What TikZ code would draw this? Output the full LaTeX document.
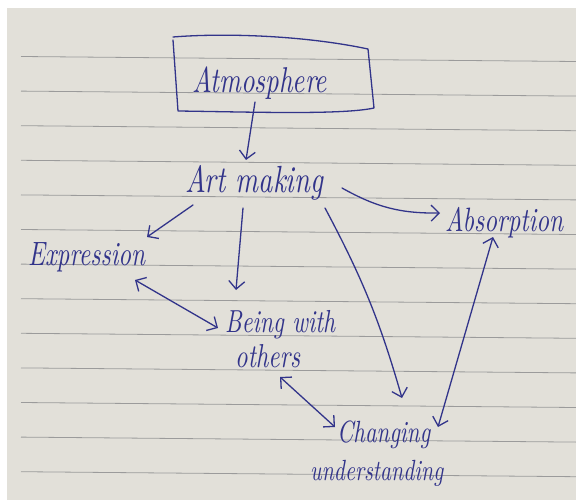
\documentclass[tikz,border=0pt]{standalone}
\usetikzlibrary{arrows.meta,calc}

\definecolor{paper}{RGB}{226,224,217}
\definecolor{rulecol}{RGB}{155,155,155}
\definecolor{ink}{RGB}{50,52,138}

% handwritten-style word, stretched to a given width (in pt) and made taller
\newcommand{\hand}[2]{\scalebox{1}[1.35]{\resizebox{#1pt}{!}{\itshape #2}}}

\begin{document}
\begin{tikzpicture}[x=1pt,y=-1pt,
  word/.style={inner sep=0pt, text=ink, anchor=base west},
  link/.style={draw=ink, line width=1.3pt, line cap=round, line join=round,
               -{Straight Barb[length=8pt,width=16pt]}},
  twoway/.style={link, {Straight Barb[length=8pt,width=16pt]}-{Straight Barb[length=8pt,width=16pt]}},
]
\useasboundingbox (0,0) rectangle (576,500);

% notebook page with ruled lines
\fill[white] (0,0) rectangle (576,500);
\fill[paper] (7,8) rectangle (576,500);
\foreach \k in {0,...,12}
  \draw[rulecol, line width=0.8pt] (21,56.5+34.6*\k) -- (576,61.5+34.6*\k);

% words
\node[word] (atm)    at (192,93)  {\hand{135}{Atmosphere}};
\node[word] (art)    at (185,193) {\hand{138}{Art making}};
\node[word] (exp)    at (28,265)  {\hand{117}{Expression}};
\node[word] (abs)    at (445,232) {\hand{118}{Absorption}};
\node[word] (beingA) at (225,332) {\hand{110}{Being with}};
\node[word] (beingB) at (235,367) {\hand{65}{others}};
\node[word] (chgA)   at (337,442) {\hand{93}{Changing}};
\node[word] (chgB)   at (310,480) {\hand{133}{understanding}};

% hand-drawn frame round "Atmosphere"
\draw[ink, line width=1.3pt, line join=round, line cap=round]
  ($(atm.base west)+(-19,-56)$) .. controls ($(atm.base west)+(30,-60)$) and ($(atm.base west)+(110,-58)$) ..
  ($(atm.base west)+(176,-44)$) -- ($(atm.base west)+(182,15)$)
  .. controls ($(atm.base west)+(150,22)$) and ($(atm.base west)+(60,19)$) ..
  ($(atm.base west)+(-14,18)$) -- ($(atm.base west)+(-19,-53)$);

% connectors
\draw[link] ($(atm.base west)+(63,9)$) -- ($(art.base west)+(61,-33)$);
\draw[link] ($(art.base west)+(8,12)$) -- ($(exp.base west)+(119,-28)$);
\draw[link] ($(art.base west)+(58,15)$) -- ($(beingA.base west)+(11,-42)$);
\draw[link] ($(art.base west)+(157,-5)$) to[bend right=15] ($(abs.base west)+(-5,-19)$);
\draw[link] ($(art.base west)+(140,15)$) to[bend left=6] ($(chgA.base west)+(65,-44)$);
\draw[twoway] ($(exp.base west)+(107,15)$) -- ($(beingA.base west)+(-7,-4)$);
\draw[twoway] ($(beingB.base west)+(45,10)$) -- ($(chgA.base west)+(-2,-15)$);
\draw[twoway] ($(abs.base west)+(48,5)$) -- ($(chgA.base west)+(101,-15)$);
\end{tikzpicture}
\end{document}
